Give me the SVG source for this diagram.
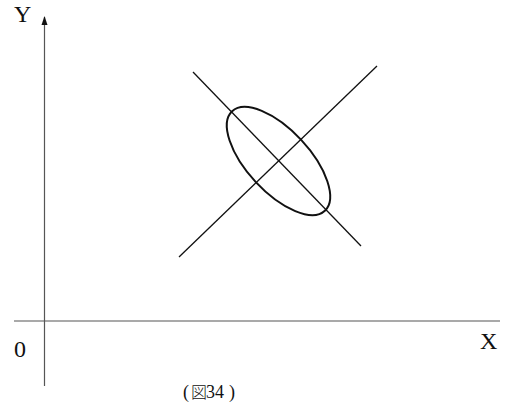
<svg xmlns="http://www.w3.org/2000/svg" width="508" height="407" viewBox="0 0 508 407">
<style>
.axis{stroke:#555;stroke-width:1.2;fill:none}
.ln{stroke:#111;stroke-width:1.3;fill:none}
.ell{stroke:#111;stroke-width:2;fill:none}
.lbl{font-family:"Liberation Serif","Noto Sans CJK JP",serif;fill:#111}
.cjk{font-family:"Noto Sans CJK JP",sans-serif;font-weight:300}
</style>
<rect width="508" height="407" fill="#fff"/>
<g id="axes">
<line class="axis" x1="44.5" y1="386" x2="44.5" y2="17"/>
<path d="M41.5,25 L44.5,16 L47.5,25 Z" fill="#111"/>
<line class="axis" x1="14" y1="321" x2="500" y2="321"/>
</g>
<g id="connectors">
<line class="ln" x1="179" y1="257" x2="377" y2="66"/>
<line class="ln" x1="193" y1="72" x2="361" y2="246"/>
</g>
<g id="ellipse">
<ellipse class="ell" cx="278.5" cy="161" rx="68" ry="31" transform="rotate(47 278.5 161)"/>
</g>
<g id="labels">
<text class="lbl" x="14" y="22" font-size="24">Y</text>
<text class="lbl" x="14" y="357" font-size="24">0</text>
<text class="lbl" x="480" y="349" font-size="24">X</text>
<text class="lbl" font-size="18" y="398"><tspan x="183">(</tspan><tspan class="cjk" x="191" font-size="16">図</tspan><tspan x="206">34</tspan><tspan x="229">)</tspan></text>
</g>
</svg>
